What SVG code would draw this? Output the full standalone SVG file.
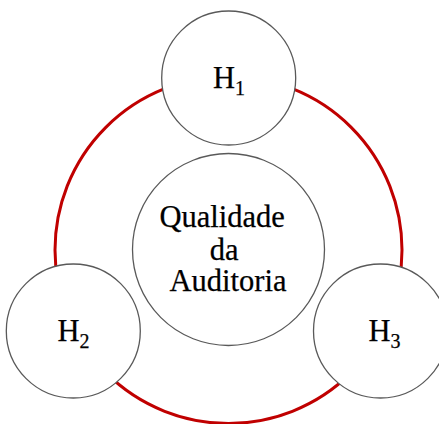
<svg xmlns="http://www.w3.org/2000/svg" width="439" height="424" viewBox="0 0 439 424">
  <style>
    .node { fill: #ffffff; stroke: #595959; stroke-width: 1.3; }
    .ring { fill: none; stroke: #c00000; stroke-width: 3; }
    .label { font-family: "Liberation Serif", "Times New Roman", serif; font-size: 30.5px; fill: #000000; stroke: #000000; stroke-width: 0.25; }
    .sub { font-size: 20px; }
  </style>
  <rect width="439" height="424" fill="#ffffff"/>

  <!-- ring linking the three hypotheses -->
  <g id="connectors">
    <circle class="ring" cx="228.5" cy="250" r="173.5"/>
  </g>

  <g id="center">
    <circle class="node" cx="228.5" cy="249.5" r="96"/>
    <text class="label" text-anchor="middle">
      <tspan x="226" y="227">Qualidade</tspan>
      <tspan x="228" y="260">da</tspan>
      <tspan x="228" y="291">Auditoria</tspan>
    </text>
  </g>

  <g id="h1">
    <circle class="node" cx="228.7" cy="78" r="67"/>
    <text class="label" x="213" y="87.5">H<tspan class="sub" dy="7">1</tspan></text>
  </g>

  <g id="h2">
    <circle class="node" cx="73.3" cy="331" r="67"/>
    <text class="label" x="57.5" y="341">H<tspan class="sub" dy="6.5">2</tspan></text>
  </g>

  <g id="h3">
    <circle class="node" cx="380.5" cy="331" r="67"/>
    <text class="label" x="368.5" y="341">H<tspan class="sub" dy="7">3</tspan></text>
  </g>
</svg>
